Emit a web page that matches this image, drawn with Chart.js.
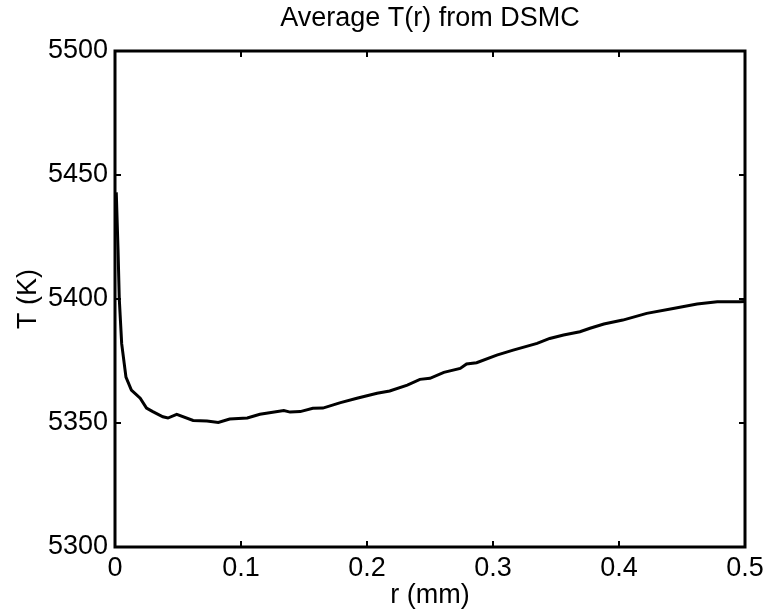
<!DOCTYPE html>
<html lang="en">
<head>
  <meta charset="UTF-8">
  <title>Average T(r) from DSMC</title>
  <script src="https://cdn.jsdelivr.net/npm/chart.js"></script>
  <style>
    html, body { margin: 0; padding: 0; background: #fff; }
  </style>
</head>
<body>
  <canvas id="tChart" width="764" height="612"></canvas>

  <script>
    // r in mm, T in K
    const radius = [0.001, 0.0024, 0.0034, 0.0053, 0.0087, 0.013, 0.020, 0.025, 0.030, 0.038, 0.042,
      0.049, 0.062, 0.073, 0.082, 0.091, 0.105, 0.115, 0.134, 0.139, 0.147, 0.157, 0.165,
      0.179, 0.192, 0.208, 0.218, 0.232, 0.242, 0.250, 0.261, 0.274, 0.279, 0.287, 0.303,
      0.316, 0.335, 0.345, 0.356, 0.369, 0.377, 0.388, 0.403, 0.422, 0.443, 0.462, 0.478,
      0.496, 0.500];
    const temperature = [5443, 5420, 5400, 5382, 5368.5, 5363.3, 5360, 5356, 5354.6, 5352.5, 5352,
      5353.5, 5351, 5350.8, 5350.2, 5351.6, 5352, 5353.5, 5355, 5354.4, 5354.6, 5355.9, 5356,
      5358.2, 5360, 5362, 5362.9, 5365.3, 5367.6, 5368, 5370.4, 5372, 5373.8, 5374.3, 5377.4,
      5379.4, 5382.1, 5384.1, 5385.5, 5386.8, 5388.2, 5389.9, 5391.5, 5394.2, 5396.2, 5398, 5398.9,
      5398.9, 5399];
    const xTicks = [0, 0.1, 0.2, 0.3, 0.4, 0.5];
    const yTicks = [5300, 5350, 5400, 5450, 5500];
    const chartTitle = 'Average T(r) from DSMC';

    const FONT = "'Liberation Sans', Arial, Helvetica, sans-serif";

    // box round the axes with inward ticks on all four sides, title centred on the axes
    const matlabFrame = {
      id: 'matlabFrame',
      afterDatasetsDraw(chart) {
        const { ctx, chartArea: a, scales: { x, y } } = chart;
        const len = 6;
        ctx.save();
        ctx.strokeStyle = '#000';
        ctx.lineWidth = 2;
        ctx.beginPath();
        xTicks.forEach(v => {
          const px = x.getPixelForValue(v);
          ctx.moveTo(px, a.bottom); ctx.lineTo(px, a.bottom - len);
          ctx.moveTo(px, a.top); ctx.lineTo(px, a.top + len);
        });
        yTicks.forEach(v => {
          const py = y.getPixelForValue(v);
          ctx.moveTo(a.left, py); ctx.lineTo(a.left + len, py);
          ctx.moveTo(a.right, py); ctx.lineTo(a.right - len, py);
        });
        ctx.stroke();
        ctx.lineWidth = 3;
        ctx.strokeRect(a.left, a.top, a.right - a.left, a.bottom - a.top);

        ctx.fillStyle = '#000';
        ctx.font = '27px ' + FONT;
        ctx.textAlign = 'center';
        ctx.textBaseline = 'middle';
        ctx.fillText(chartTitle, (a.left + a.right) / 2, 19);
        ctx.restore();
      }
    };

    new Chart(document.getElementById('tChart'), {
      type: 'line',
      data: {
        datasets: [{
          data: radius.map((r, i) => ({ x: r, y: temperature[i] })),
          borderColor: '#000',
          borderWidth: 3,
          pointRadius: 0,
          tension: 0,
          fill: false
        }]
      },
      options: {
        responsive: false,
        animation: false,
        layout: { padding: { left: 0, right: 0, top: 51, bottom: 0 } },
        plugins: {
          legend: { display: false },
          tooltip: { enabled: false },
          title: { display: false }
        },
        scales: {
          x: {
            type: 'linear',
            min: 0,
            max: 0.5,
            grid: { display: false, drawTicks: false },
            border: { display: false },
            afterBuildTicks: s => { s.ticks = xTicks.map(v => ({ value: v })); },
            afterFit: s => { s.height = 65; s.paddingRight = 19; s.paddingLeft = 0; },
            ticks: {
              color: '#000',
              padding: 5,
              font: { family: FONT, size: 27 },
              callback: v => String(v)
            },
            title: {
              display: true,
              text: 'r (mm)',
              color: '#000',
              font: { family: FONT, size: 27 },
              padding: { top: 0, bottom: 0 }
            }
          },
          y: {
            type: 'linear',
            min: 5300,
            max: 5500,
            grid: { display: false, drawTicks: false },
            border: { display: false },
            afterBuildTicks: s => { s.ticks = yTicks.map(v => ({ value: v })); },
            afterFit: s => { s.width = 115; },
            ticks: {
              color: '#000',
              padding: 7,
              font: { family: FONT, size: 27 },
              callback: v => String(v)
            },
            title: {
              display: true,
              text: 'T (K)',
              color: '#000',
              font: { family: FONT, size: 27 },
              padding: { top: 12, bottom: 0 }
            }
          }
        }
      },
      plugins: [matlabFrame]
    });
  </script>
</body>
</html>
